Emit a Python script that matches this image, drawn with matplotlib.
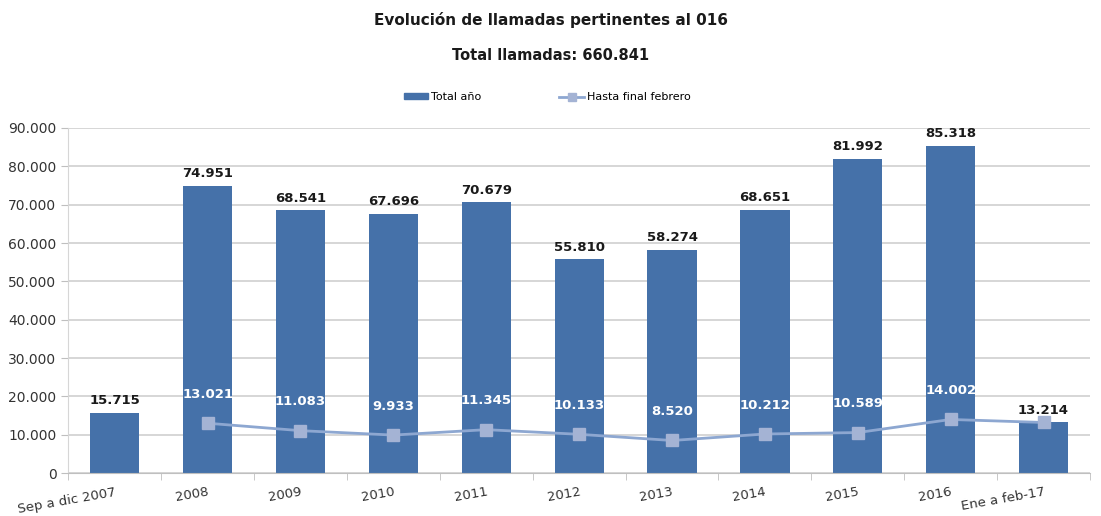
import numpy as np
import matplotlib
matplotlib.use('Agg')
import matplotlib.pyplot as plt
from matplotlib.ticker import FuncFormatter
from matplotlib.lines import Line2D
from matplotlib.patches import Patch

categorias = ['Sep a dic 2007', '2008', '2009', '2010', '2011', '2012',
              '2013', '2014', '2015', '2016', 'Ene a feb-17']
total_anio = [15715, 74951, 68541, 67696, 70679, 55810, 58274, 68651, 81992, 85318, 13214]
hasta_febrero = [np.nan, 13021, 11083, 9933, 11345, 10133, 8520, 10212, 10589, 14002, 13214]

color_barra = '#4571A9'
color_linea = '#8DA7D1'
color_marca = '#A4B3D4'

plt.rcParams['font.family'] = ['DejaVu Sans']


def miles(v, pos=None):
    return f'{int(v):,}'.replace(',', '.')


fig = plt.figure(figsize=(11.01, 5.16), dpi=100)
ax = fig.add_axes([0.062, 0.083, 0.928, 0.669])

x = np.arange(len(categorias))
ax.bar(x, total_anio, width=0.53, color=color_barra, zorder=2)
ax.plot(x, hasta_febrero, color=color_linea, lw=2, marker='s', markersize=8,
        markerfacecolor=color_marca, markeredgecolor=color_marca, zorder=3)

# etiquetas de las barras
for xi, v in zip(x, total_anio):
    ax.annotate(miles(v), (xi, v), xytext=(0, 4), textcoords='offset points',
                ha='center', va='bottom', fontsize=9.5, fontweight='bold', color='#1a1a1a')

# etiquetas de la linea (la ultima coincide con la barra)
for xi, v in zip(x[1:-1], hasta_febrero[1:-1]):
    ax.annotate(miles(v), (xi, v), xytext=(0, 16), textcoords='offset points',
                ha='center', va='bottom', fontsize=9.5, fontweight='bold', color='white')

ax.set_xlim(-0.5, len(categorias) - 0.5)
ax.set_ylim(0, 90000)
ax.set_yticks(np.arange(0, 90001, 10000))
ax.yaxis.set_major_formatter(FuncFormatter(miles))
ax.grid(axis='y', color='#D6D6D6', lw=1.4, zorder=0)
ax.set_axisbelow(True)

ax.set_xticks(x)
ax.set_xticklabels(categorias, rotation=10, fontsize=9.5, color='#333333',
                   ha='right', va='top', rotation_mode='anchor')
ax.set_xticks(np.arange(-0.5, len(categorias), 1), minor=True)
ax.tick_params(axis='x', which='major', length=0, pad=9)
ax.tick_params(axis='x', which='minor', length=5, color='#BFBFBF')
ax.tick_params(axis='y', length=5, color='#BFBFBF', labelsize=10, labelcolor='#333333')

for s in ['top', 'right']:
    ax.spines[s].set_visible(False)
ax.spines['left'].set_color('#D6D6D6')
ax.spines['bottom'].set_color('#BFBFBF')

fig.text(0.5, 0.961, 'Evolución de llamadas pertinentes al 016', ha='center', va='center',
         fontsize=11, fontweight='bold', color='#1a1a1a')
fig.text(0.5, 0.893, 'Total llamadas: 660.841', ha='center', va='center',
         fontsize=10.5, fontweight='bold', color='#1a1a1a')

handles = [Patch(color=color_barra),
           Line2D([0], [0], color=color_linea, lw=2, marker='s', markersize=6,
                  markerfacecolor=color_marca, markeredgecolor=color_marca)]
fig.legend(handles, ['Total año', 'Hasta final febrero'], loc='center',
           bbox_to_anchor=(0.497, 0.812), ncol=2, frameon=False, fontsize=8,
           handlelength=2.2, handleheight=0.4, columnspacing=7, handletextpad=0.3)

fig.savefig('out.png', dpi=100)
